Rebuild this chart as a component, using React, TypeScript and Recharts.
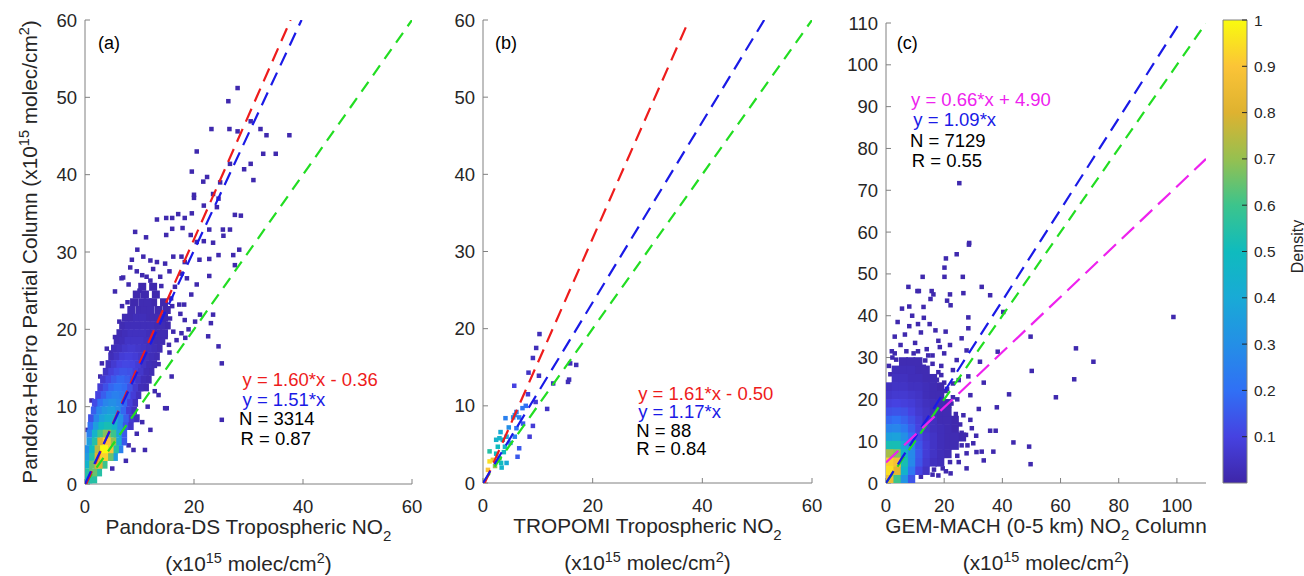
import React from 'react';
import { ScatterChart, Scatter, XAxis, YAxis, ReferenceArea } from 'recharts';

const INK = '#262626';
const FRAME = '#808080';
const FONT = '"Liberation Sans", Arial, Helvetica, sans-serif';
const RED = '#ee1c1c';
const BLUE = '#1a1ae6';
const GREEN = '#22dd22';
const MAGENTA = '#ee22ee';

// parula-like ramp: [t, r, g, b]
const PARULA: number[][] = [
  [0.0, 62, 38, 168],
  [0.1, 70, 66, 225],
  [0.2, 48, 112, 245],
  [0.3, 36, 143, 230],
  [0.4, 25, 170, 214],
  [0.5, 15, 187, 190],
  [0.6, 60, 196, 140],
  [0.7, 150, 192, 80],
  [0.8, 222, 178, 48],
  [0.9, 251, 196, 55],
  [1.0, 249, 251, 14],
];

function parula(t: number) {
  const v = Math.max(0, Math.min(1, t));
  for (let i = 1; i < PARULA.length; i++) {
    const a = PARULA[i - 1];
    const b = PARULA[i];
    if (v <= b[0]) {
      const f = (v - a[0]) / (b[0] - a[0]);
      const c = [1, 2, 3].map((k) => Math.round(a[k] + (b[k] - a[k]) * f));
      return `rgb(${c[0]},${c[1]},${c[2]})`;
    }
  }
  return 'rgb(249,251,14)';
}

// ticks
const TICKS_X60 = [0, 20, 40, 60];
const TICKS_Y60 = [0, 10, 20, 30, 40, 50, 60];
const TICKS_X110 = [0, 20, 40, 60, 80, 100];
const TICKS_Y110 = [0, 10, 20, 30, 40, 50, 60, 70, 80, 90, 100, 110];
const CBAR_TICKS = [0.1, 0.2, 0.3, 0.4, 0.5, 0.6, 0.7, 0.8, 0.9, 1];

// ---------- panel (a): Pandora-DS vs HeiPro  [x, y, density]
const CLOUD_A: number[][] = [
  [0.6, 0.6, .5], [1.5, 0.6, .55],
  [0.6, 1.5, .55], [1.5, 1.5, .65], [2.4, 1.5, .55],
  [0.6, 2.5, .45], [1.5, 2.5, .65], [2.5, 2.5, .8], [3.4, 2.5, .6],
  [0.6, 3.5, .35], [1.5, 3.5, .55], [2.5, 3.5, .8], [3.5, 3.5, .92], [4.5, 3.5, .65], [5.3, 3.5, .35],
  [0.6, 4.5, .3], [1.5, 4.5, .5], [2.5, 4.5, .75], [3.5, 4.5, 1], [4.5, 4.5, .9], [5.5, 4.5, .55], [6.3, 4.5, .25],
  [1, 5.5, .35], [2, 5.5, .55], [3, 5.5, .8], [4, 5.5, .9], [5, 5.5, .7], [6, 5.5, .4], [7, 5.5, .15],
  [1, 6.5, .25], [2, 6.5, .45], [3, 6.5, .6], [4, 6.5, .68], [5, 6.5, .6], [6, 6.5, .38], [7, 6.5, .15],
  [1.2, 7.5, .2], [2.2, 7.5, .35], [3.2, 7.5, .48], [4.2, 7.5, .52], [5.2, 7.5, .45], [6.2, 7.5, .3], [7.2, 7.5, .14], [8.2, 7.5, .06],
  [1.3, 8.5, .13], [2.3, 8.5, .27], [3.3, 8.5, .37], [4.3, 8.5, .42], [5.3, 8.5, .4], [6.3, 8.5, .3], [7.3, 8.5, .16], [8.3, 8.5, .07], [9.3, 8.5, .04],
  [1.8, 9.5, .16], [2.8, 9.5, .27], [3.8, 9.5, .33], [4.8, 9.5, .36], [5.8, 9.5, .3], [6.8, 9.5, .18], [7.8, 9.5, .08], [8.8, 9.5, .04],
  [2, 10.5, .12], [3, 10.5, .2], [4, 10.5, .27], [5, 10.5, .3], [6, 10.5, .27], [7, 10.5, .18], [8, 10.5, .09], [9, 10.5, .04],
  [2.6, 11.5, .1], [3.6, 11.5, .16], [4.6, 11.5, .22], [5.6, 11.5, .25], [6.6, 11.5, .22], [7.6, 11.5, .15], [8.6, 11.5, .08], [9.6, 11.5, .04],
  [3, 12.5, .08], [4, 12.5, .13], [5, 12.5, .18], [6, 12.5, .21], [7, 12.5, .19], [8, 12.5, .13], [9, 12.5, .07], [10, 12.5, .03], [11, 12.5, .02],
  [3.5, 13.5, .07], [4.5, 13.5, .11], [5.5, 13.5, .15], [6.5, 13.5, .18], [7.5, 13.5, .16], [8.5, 13.5, .11], [9.5, 13.5, .06], [10.5, 13.5, .03], [11.5, 13.5, .02],
  [4, 14.5, .05], [5, 14.5, .09], [6, 14.5, .12], [7, 14.5, .14], [8, 14.5, .13], [9, 14.5, .09], [10, 14.5, .06], [11, 14.5, .03], [12, 14.5, .02],
  [4.5, 15.5, .04], [5.5, 15.5, .07], [6.5, 15.5, .1], [7.5, 15.5, .11], [8.5, 15.5, .1], [9.5, 15.5, .08], [10.5, 15.5, .05], [11.5, 15.5, .03], [12.5, 15.5, .02],
  [5, 16.5, .03], [6, 16.5, .05], [7, 16.5, .08], [8, 16.5, .09], [9, 16.5, .08], [10, 16.5, .06], [11, 16.5, .04], [12, 16.5, .03], [13, 16.5, .02],
  [5.5, 17.5, .03], [6.5, 17.5, .04], [7.5, 17.5, .06], [8.5, 17.5, .07], [9.5, 17.5, .06], [10.5, 17.5, .05], [11.5, 17.5, .04], [12.5, 17.5, .03], [13.5, 17.5, .02],
  [6, 18.5, .02], [7, 18.5, .03], [8, 18.5, .05], [9, 18.5, .05], [10, 18.5, .05], [11, 18.5, .04], [12, 18.5, .03], [13, 18.5, .02], [14, 18.5, .02],
  [6.5, 19.5, .02], [7.5, 19.5, .03], [8.5, 19.5, .04], [9.5, 19.5, .04], [10.5, 19.5, .04], [11.5, 19.5, .03], [12.5, 19.5, .03], [13.5, 19.5, .02], [14.5, 19.5, .02],
  [7, 20.5, .02], [8, 20.5, .03], [9, 20.5, .03], [10, 20.5, .03], [11, 20.5, .03], [12, 20.5, .03], [13, 20.5, .02], [14, 20.5, .02], [15, 20.5, .01],
  [7.5, 21.5, .02], [8.5, 21.5, .02], [9.5, 21.5, .03], [10.5, 21.5, .03], [11.5, 21.5, .02], [12.5, 21.5, .02], [13.5, 21.5, .02], [14.5, 21.5, .01],
  [8.5, 22.5, .02], [10, 22.5, .02], [11, 22.5, .02], [12, 22.5, .02], [13.5, 22.5, .01], [15, 22.5, .01],
  [9, 23.5, .01], [10.5, 23.5, .02], [11.5, 23.5, .02], [12.5, 23.5, .01], [14.5, 23.5, .01],
  [9.5, 24.5, .01], [11, 24.5, .01], [13, 24.5, .01],
  [10.5, 25.5, .01], [12.5, 25.5, .01],
];

const SPARSE_A: number[][] = [
  [28.0, 51.2], [26.3, 49.5], [23.2, 45.9], [26.5, 45.9], [28.0, 45.6], [30.4, 46.9], [32.2, 45.9], [33.3, 45.1],
  [37.5, 45.1], [32.7, 42.7], [35.0, 42.7], [20.5, 43.0], [19.6, 40.4], [22.4, 39.7], [21.7, 39.1], [26.6, 41.4],
  [30.4, 41.4], [29.2, 40.7], [30.9, 39.3], [24.8, 39.0], [20.0, 37.4], [20.0, 37.0], [21.8, 36.0], [23.5, 37.5],
  [24.5, 36.9], [24.2, 35.8], [27.5, 34.8], [28.6, 34.7], [16.0, 34.4], [17.1, 34.9], [13.2, 34.2], [14.9, 34.4],
  [18.3, 34.4], [19.6, 35.0], [9.2, 32.6], [11.2, 31.9], [14.9, 32.2], [16.0, 33.0], [17.9, 33.1], [19.4, 32.2],
  [20.5, 31.3], [22.8, 32.9], [25.3, 32.9], [26.6, 32.9], [25.4, 32.1], [23.5, 31.2], [21.8, 31.4], [9.6, 30.3],
  [8.6, 29.0], [10.7, 29.4], [12.0, 28.9], [13.2, 28.7], [14.7, 28.5], [16.2, 29.4], [17.7, 29.4], [18.3, 28.7],
  [21.0, 29.0], [22.8, 29.1], [24.5, 29.6], [27.2, 29.6], [28.3, 30.3], [27.5, 28.3], [7.0, 26.7], [11.3, 26.8],
  [13.8, 26.8], [22.8, 26.9], [17.7, 27.2], [18.7, 26.6], [23.5, 21.9], [23.1, 20.8], [24.5, 17.8], [25.1, 15.6],
  [25.1, 8.3], [15.9, 13.9], [15.0, 9.8], [11.0, 4.4], [8.9, 4.4], [18.2, 23.2], [17.3, 23.2], [21.1, 21.9],
  [20.2, 21.0], [17.7, 19.5], [18.4, 18.9], [16.2, 19.7], [16.8, 18.6], [13.2, 17.5], [5.5, 24.9], [6.7, 26.6],
  [3.1, 15.6], [2.8, 13.9], [1.2, 10.8], [18.3, 21.2], [22.6, 19.1], [14.7, 9.8], [9.5, 27.5], [12.5, 27.8],
  [15.5, 27.5], [16.5, 25.5], [19.5, 24.5], [20.5, 25.8], [15.8, 24.0], [17.5, 22.0], [19.0, 20.0], [14.5, 21.0],
  [15.5, 17.0], [13.5, 15.5], [12.8, 12.0], [11.5, 10.0], [10.5, 8.0], [9.5, 6.5], [8.0, 5.0], [7.5, 3.0],
  [5.0, 2.0], [12.0, 7.0], [13.5, 11.5], [4.0, 17.5], [3.5, 12.5], [2.0, 9.8], [0.5, 7.0], [8.3, 28.0],
  [10.0, 25.0], [7.8, 23.5], [6.3, 21.0], [5.5, 19.0], [4.8, 17.0], [8.0, 25.8], [14.0, 25.6], [16.0, 23.0],
  [15.6, 21.4], [6.8, 23.0], [12.0, 26.3], [10.5, 27.0], [14.8, 19.0], [15.4, 18.0],
];

const FIT_SLOPE_A = [1.0, 1.60, 1.51];
const FIT_ICPT_A = [0, -0.36, 0];
const NOTES_A = ['y = 1.60*x - 0.36', 'y = 1.51*x', 'N = 3314', 'R = 0.87'];

// ---------- panel (b): TROPOMI vs HeiPro  [x, y, density]
const POINTS_B: number[][] = [
  [10.3, 19.3, .03], [9.7, 17.5, .03], [9.1, 16.2, .04], [8.3, 14.3, .05], [10.2, 13.9, .04], [15.9, 15.5, .03],
  [17.0, 15.3, .03], [15.7, 13.4, .03], [15.5, 13.1, .03], [12.8, 12.9, .04], [5.7, 12.6, .1], [8.2, 11.5, .08],
  [9.6, 10.5, .08], [11.7, 9.6, .05], [7.8, 10.0, .2], [7.2, 9.7, .22], [6.1, 9.2, .25], [6.6, 8.5, .25],
  [5.8, 8.8, .3], [5.5, 8.5, .3], [4.1, 8.4, .25], [7.3, 7.7, .15], [9.1, 7.4, .08], [6.1, 7.1, .2],
  [8.5, 6.0, .08], [5.8, 6.0, .25], [3.0, 5.8, .45], [2.4, 5.6, .45], [3.6, 5.6, .45], [4.3, 6.0, .4],
  [2.7, 4.7, .5], [4.0, 4.7, .45], [6.6, 4.5, .15], [6.3, 3.4, .15], [1.2, 4.1, .55], [1.2, 2.8, .95],
  [1.8, 3.0, .85], [3.0, 3.2, .6], [3.3, 2.6, .5], [4.3, 2.6, .4], [2.4, 3.8, .5], [0.9, 1.7, .9],
  [3.8, 4.0, .5], [2.2, 2.2, .7], [3.4, 2.0, .45], [5.0, 5.2, .3], [4.7, 7.2, .3], [3.2, 6.6, .4],
];
const FIT_SLOPE_B = [1.0, 1.61, 1.17];
const FIT_ICPT_B = [0, -0.50, 0];
const NOTES_B = ['y = 1.61*x - 0.50', 'y = 1.17*x', 'N = 88', 'R = 0.84'];

// ---------- panel (c): GEM-MACH vs HeiPro  [x, y, density]
const CLOUD_C: number[][] = [
  [1, 1, .85], [3.5, 1, .6], [6, 1, .32], [8.5, 1, .14],
  [1, 3, .95], [3.5, 3, .82], [6, 3, .45], [8.5, 3, .22], [11, 3, .1], [13.5, 3, .05],
  [1, 5, .92], [3.5, 5, .88], [6, 5, .52], [8.5, 5, .28], [11, 5, .14], [13.5, 5, .07], [16, 5, .04], [18.5, 5, .03],
  [1, 7, .72], [3.5, 7, .68], [6, 7, .46], [8.5, 7, .28], [11, 7, .15], [13.5, 7, .08], [16, 7, .05], [18.5, 7, .03], [21, 7, .02],
  [1, 9, .52], [3.5, 9, .52], [6, 9, .38], [8.5, 9, .25], [11, 9, .14], [13.5, 9, .08], [16, 9, .05], [18.5, 9, .03], [21, 9, .02], [23.5, 9, .02],
  [1, 11, .36], [3.5, 11, .37], [6, 11, .3], [8.5, 11, .2], [11, 11, .12], [13.5, 11, .07], [16, 11, .05], [18.5, 11, .03], [21, 11, .02], [23.5, 11, .02], [26, 11, .01],
  [1, 13, .26], [3.5, 13, .27], [6, 13, .23], [8.5, 13, .16], [11, 13, .1], [13.5, 13, .06], [16, 13, .04], [18.5, 13, .03], [21, 13, .02], [23.5, 13, .01],
  [1, 15, .18], [3.5, 15, .2], [6, 15, .17], [8.5, 15, .13], [11, 15, .09], [13.5, 15, .05], [16, 15, .04], [18.5, 15, .02], [21, 15, .02], [23.5, 15, .01],
  [1, 17, .13], [3.5, 17, .14], [6, 17, .13], [8.5, 17, .1], [11, 17, .07], [13.5, 17, .05], [16, 17, .03], [18.5, 17, .02], [21, 17, .02],
  [1, 19, .09], [3.5, 19, .1], [6, 19, .09], [8.5, 19, .08], [11, 19, .06], [13.5, 19, .04], [16, 19, .03], [18.5, 19, .02], [21, 19, .01],
  [1, 21, .06], [3.5, 21, .07], [6, 21, .07], [8.5, 21, .06], [11, 21, .05], [13.5, 21, .03], [16, 21, .02], [18.5, 21, .02],
  [1, 23, .04], [3.5, 23, .05], [6, 23, .05], [8.5, 23, .04], [11, 23, .04], [13.5, 23, .03], [16, 23, .02], [18.5, 23, .01],
  [3.5, 25, .04], [6, 25, .04], [8.5, 25, .03], [11, 25, .03], [13.5, 25, .02], [16, 25, .02],
  [3.5, 27, .03], [6, 27, .03], [8.5, 27, .03], [11, 27, .02], [13.5, 27, .02],
  [6, 29, .02], [8.5, 29, .02], [11, 29, .02],
];

const SPARSE_C: number[][] = [
  [25.2, 71.7], [28.6, 57.4], [28.5, 57.0], [24.3, 54.7], [20.6, 53.7], [20.1, 51.5], [12.6, 49.3], [20.1, 49.3],
  [26.4, 49.3], [7.7, 46.9], [32.9, 46.9], [10.8, 45.9], [11.3, 45.9], [15.7, 45.9], [16.3, 45.1], [22.0, 45.1],
  [26.6, 45.4], [35.8, 44.9], [15.3, 44.0], [21.0, 43.6], [22.2, 42.5], [8.0, 42.2], [5.5, 41.7], [12.9, 42.1],
  [28.3, 39.6], [40.3, 40.9], [20.5, 36.2], [28.3, 37.0], [26.0, 34.6], [49.7, 35.0], [38.4, 31.4], [27.7, 31.7],
  [65.3, 32.2], [71.3, 29.0], [24.3, 29.4], [32.3, 29.0], [50.1, 26.8], [64.7, 24.8], [28.3, 25.5], [33.6, 24.0],
  [42.3, 21.2], [58.4, 20.5], [38.1, 18.1], [31.9, 17.7], [35.8, 12.5], [37.7, 12.5], [43.8, 9.7], [49.2, 8.7],
  [49.7, 4.5], [98.8, 39.7], [32.9, 7.5], [36.9, 7.5], [33.6, 5.4], [27.7, 3.5], [22.2, 2.3], [20.6, 2.8],
  [27.7, 7.1], [31.1, 7.4], [31.0, 11.3], [29.5, 13.1], [29.0, 15.1], [26.6, 16.2], [29.0, 21.0], [25.0, 24.6],
  [5, 33], [3, 35], [8, 37.5], [12, 36], [15, 38], [9, 40], [2, 31.5], [18, 34], [14, 32], [20, 31], [19, 28],
  [23, 27], [22, 33], [10, 33.5], [6.5, 35.5], [17, 36.5], [13, 39.5], [4, 38.5], [11, 38], [16, 30.5],
  [24.5, 20], [26, 12], [24, 9], [30, 9.5], [25, 5], [18.5, 32.5], [7, 31.5],
  [21, 22.5], [22.5, 19], [24, 16.5], [25.5, 14], [27.5, 11.5], [26, 9], [24.5, 6.5], [22, 5], [19.5, 3.5],
  [16, 2], [12, 1.5], [28, 9], [23, 20.5], [20, 24], [18, 26.5], [16, 28.5], [14.5, 30.5], [11, 31.5], [3, 31],
  [1.5, 26], [1, 28], [13, 27.8], [17.5, 24.7], [20.5, 22], [22.8, 14.8], [21.7, 12], [2.2, 30], [9.5, 31],
  [3.5, 29.5], [13.5, 29.3], [19, 25.8], [21.5, 17.5], [23, 23.8], [16.5, 3.2], [18, 1.8],
];
const FIT_SLOPE_C = [1.0, 1.09, 0.66];
const FIT_ICPT_C = [0, 0, 4.90];
const NOTES_C = ['y = 0.66*x + 4.90', 'y = 1.09*x', 'N = 7129', 'R = 0.55'];

// ---------- helpers
type Pt = { x: number; y: number; d: number };
const toPts = (rows: number[][]): Pt[] =>
  rows.map((r) => ({ x: r[0], y: r[1], d: r[2] ?? 0.01 })).sort((a, b) => a.d - b.d);

const square = (size: number, fixed?: string) => (p: any) => (
  <rect x={p.cx - size / 2} y={p.cy - size / 2} width={size} height={size}
    fill={fixed ?? parula(p.payload.d)} />
);

const noMark = () => <g />;

// end points of a fit line clipped to the axes box
const segment = (m: number, b: number, xMax: number, yMax: number) => {
  const x0 = b >= 0 ? 0 : -b / m;
  const x1 = Math.min(xMax, (yMax - b) / m);
  return [{ x: x0, y: m * x0 + b }, { x: x1, y: m * x1 + b }];
};

const UnitSpans = () => (
  <>
    <tspan>(x10</tspan>
    <tspan dy={-8} fontSize={14.5}>15</tspan>
    <tspan dy={8}> molec/cm</tspan>
    <tspan dy={-8} fontSize={14.5}>2</tspan>
    <tspan dy={8}>)</tspan>
  </>
);

const xTitle = (before: string, after: string) => (props: any) => {
  const vb = props.viewBox;
  const cx = vb.x + vb.width / 2;
  return (
    <g fontFamily={FONT}>
      <text x={cx} y={vb.y + 50} textAnchor="middle" fontSize={20.8} fill={INK}>
        <tspan>{before}</tspan>
        <tspan dy={7} fontSize={15}>2</tspan>
        <tspan dy={-7}>{after}</tspan>
      </text>
      <text x={cx} y={vb.y + 87} textAnchor="middle" fontSize={20.8} fill={INK}>
        <UnitSpans />
      </text>
    </g>
  );
};

const yTitleA = (props: any) => {
  const vb = props.viewBox;
  const x = vb.x + 2;
  const y = vb.y + vb.height / 2;
  return (
    <text x={x} y={y} transform={`rotate(-90, ${x}, ${y})`} textAnchor="middle"
      fontSize={20.8} fill={INK} fontFamily={FONT}>
      <tspan>Pandora-HeiPro Partial Column </tspan>
      <UnitSpans />
    </text>
  );
};

const tagShape = (tag: string) => (p: any) => (
  <text x={p.cx} y={p.cy} dominantBaseline="central" fontSize={18} fill="#000" fontFamily={FONT}>{tag}</text>
);

const noteShape = (lines: string[], colors: string[], dx: number[], gap: number) => (p: any) => (
  <g>
    {lines.map((t, i) => (
      <text key={i} x={p.cx + dx[i]} y={p.cy + i * gap} dominantBaseline="central"
        fontSize={18.5} fill={colors[i]} fontFamily={FONT}>{t}</text>
    ))}
  </g>
);

function Panel(props: any) {
  const {
    left, width, margin, yAxisWidth, xMax, yMax, xTicks, yTicks,
    cloud, cloudSize, sparse, slopes, icpts, fitColors, fitDash,
    notes, noteColors, noteDx, noteAt, noteGap, tag, tagAt, xLabel, yLabel,
  } = props;
  const cloudPts = toPts(cloud);
  const sparsePts = toPts(sparse);
  const tickStyle = { fontSize: 18.5, fill: INK, fontFamily: FONT };
  return (
    <div style={{ position: 'absolute', left, top: 0 }}>
      <ScatterChart width={width} height={576} margin={margin}>
        <XAxis type="number" dataKey="x" domain={[0, xMax]} ticks={xTicks} interval={0}
          tickSize={-5} tickMargin={21} height={30} tick={tickStyle}
          axisLine={{ stroke: FRAME }} tickLine={{ stroke: FRAME }} allowDataOverflow label={xLabel} />
        <XAxis xAxisId="top" orientation="top" type="number" dataKey="x" domain={[0, xMax]} ticks={xTicks}
          interval={0} tickSize={-5} height={0} tick={false}
          axisLine={{ stroke: FRAME }} tickLine={{ stroke: FRAME }} allowDataOverflow />
        <YAxis type="number" dataKey="y" domain={[0, yMax]} ticks={yTicks} interval={0}
          tickSize={-5} tickMargin={13} width={yAxisWidth} tick={tickStyle}
          axisLine={{ stroke: FRAME }} tickLine={{ stroke: FRAME }} allowDataOverflow label={yLabel} />
        <YAxis yAxisId="right" orientation="right" type="number" dataKey="y" domain={[0, yMax]} ticks={yTicks}
          interval={0} tickSize={-5} width={0} tick={false}
          axisLine={{ stroke: FRAME }} tickLine={{ stroke: FRAME }} allowDataOverflow />
        <Scatter data={sparsePts} shape={square(4.5, parula(0.01))} isAnimationActive={false} />
        <Scatter data={cloudPts} shape={square(cloudSize)} isAnimationActive={false} />
        {slopes.map((m: number, i: number) => (
          <Scatter key={`fit-${i}`} data={segment(m, icpts[i], xMax, yMax)} shape={noMark}
            line={{ stroke: fitColors[i], strokeWidth: 2.2, strokeDasharray: fitDash[i] }}
            isAnimationActive={false} />
        ))}
        <Scatter data={[tagAt]} shape={tagShape(tag)} isAnimationActive={false} />
        <Scatter data={[noteAt]} shape={noteShape(notes, noteColors, noteDx, noteGap)} isAnimationActive={false} />
      </ScatterChart>
    </div>
  );
}

function ColorBar() {
  const densityLabel = (props: any) => {
    const vb = props.viewBox;
    const x = vb.x + 50;
    const y = vb.y + vb.height / 2 - 5;
    return (
      <text x={x} y={y} transform={`rotate(-90, ${x}, ${y})`} textAnchor="middle"
        dominantBaseline="central" fontSize={16} fill={INK} fontFamily={FONT}>Density</text>
    );
  };
  return (
    <div style={{ position: 'absolute', left: 1210, top: 0 }}>
      <ScatterChart width={94} height={576} margin={{ top: 20, right: 0, bottom: 93, left: 13 }}>
        <defs>
          <linearGradient id="parulaBar" x1="0" y1="1" x2="0" y2="0">
            {PARULA.map((s) => (
              <stop key={s[0]} offset={`${s[0] * 100}%`} stopColor={`rgb(${s[1]},${s[2]},${s[3]})`} />
            ))}
          </linearGradient>
        </defs>
        <XAxis type="number" dataKey="x" domain={[0, 1]} hide />
        <YAxis type="number" dataKey="y" orientation="right" domain={[0, 1]} ticks={CBAR_TICKS} interval={0}
          width={57} tickSize={-5} tickMargin={12} axisLine={false} tickLine={{ stroke: INK }}
          tick={{ fontSize: 15.5, fill: INK, fontFamily: FONT }} label={densityLabel} />
        <ReferenceArea x1={0} x2={1} y1={0} y2={1} fill="url(#parulaBar)" fillOpacity={1}
          stroke={FRAME} strokeWidth={1} ifOverflow="visible" />
        <Scatter data={[{ x: 0, y: 0 }, { x: 1, y: 1 }]} shape={noMark} isAnimationActive={false} />
      </ScatterChart>
    </div>
  );
}

export default function App() {
  return (
    <div style={{ position: 'absolute', left: 0, top: 0, width: 1304, height: 576, background: '#fff', fontFamily: FONT }}>
      <Panel
        left={0} width={440} margin={{ top: 20, right: 28, bottom: 62, left: 35 }} yAxisWidth={50}
        xMax={60} yMax={60} xTicks={TICKS_X60} yTicks={TICKS_Y60}
        cloud={CLOUD_A} cloudSize={8} sparse={SPARSE_A}
        slopes={FIT_SLOPE_A} icpts={FIT_ICPT_A} fitColors={[GREEN, RED, BLUE]} fitDash={['12 8', '14 8', '14 8']}
        notes={NOTES_A} noteColors={[RED, BLUE, '#000', '#000']} noteDx={[0, 0, -3.5, -2]}
        noteAt={{ x: 28.9, y: 13.45 }} noteGap={19.5}
        tag="(a)" tagAt={{ x: 2.4, y: 57 }}
        xLabel={xTitle('Pandora-DS Tropospheric NO', '')} yLabel={yTitleA}
      />
      <Panel
        left={440} width={400} margin={{ top: 20, right: 28, bottom: 63, left: 3 }} yAxisWidth={40}
        xMax={60} yMax={60} xTicks={TICKS_X60} yTicks={TICKS_Y60}
        cloud={POINTS_B} cloudSize={4.5} sparse={[]}
        slopes={FIT_SLOPE_B} icpts={FIT_ICPT_B} fitColors={[GREEN, RED, BLUE]} fitDash={['12 8', '14 8', '14 8']}
        notes={NOTES_B} noteColors={[RED, BLUE, '#000', '#000']} noteDx={[0, 0, -2, -2]}
        noteAt={{ x: 28.3, y: 11.6 }} noteGap={18.5}
        tag="(b)" tagAt={{ x: 2.2, y: 57 }}
        xLabel={xTitle('TROPOMI Tropospheric NO', '')}
      />
      <Panel
        left={840} width={380} margin={{ top: 23, right: 14, bottom: 63, left: 6 }} yAxisWidth={40}
        xMax={110} yMax={110} xTicks={TICKS_X110} yTicks={TICKS_Y110}
        cloud={CLOUD_C} cloudSize={9} sparse={SPARSE_C}
        slopes={FIT_SLOPE_C} icpts={FIT_ICPT_C} fitColors={[GREEN, BLUE, MAGENTA]} fitDash={['12 8', '14 8', '17 8']}
        notes={NOTES_C} noteColors={[MAGENTA, BLUE, '#000', '#000']} noteDx={[0, 2.3, -1, 0.7]}
        noteAt={{ x: 8.6, y: 91.8 }} noteGap={20.5}
        tag="(c)" tagAt={{ x: 3.7, y: 105.1 }}
        xLabel={xTitle('GEM-MACH (0-5 km) NO', ' Column')}
      />
      <ColorBar />
    </div>
  );
}
